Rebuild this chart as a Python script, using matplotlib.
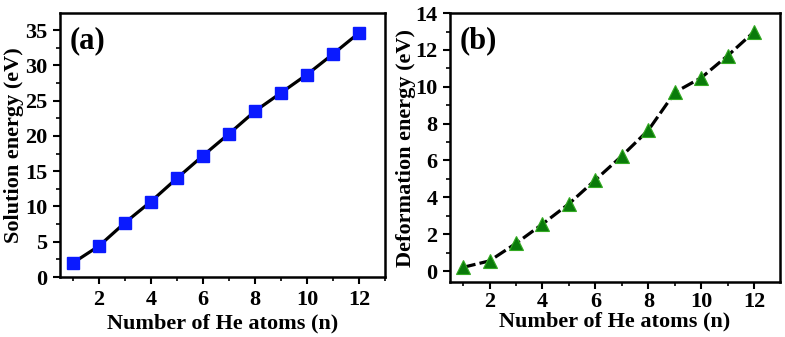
import matplotlib
matplotlib.use("Agg")
import matplotlib.pyplot as plt
from matplotlib.ticker import MultipleLocator

n_atoms = [1, 2, 3, 4, 5, 6, 7, 8, 9, 10, 11, 12]
solution_energy = [2.0, 4.4, 7.7, 10.7, 14.0, 17.2, 20.3, 23.5, 26.1, 28.7, 31.6, 34.6]
deformation_energy = [0.2, 0.55, 1.5, 2.55, 3.65, 4.95, 6.25, 7.65, 9.7, 10.5, 11.7, 13.0]

plt.rcParams['font.family'] = 'Liberation Serif'
plt.rcParams['font.weight'] = 'bold'
plt.rcParams['axes.labelweight'] = 'bold'

fig = plt.figure(figsize=(7.85, 3.37), dpi=100)
ax1 = fig.add_axes([0.0764, 0.178, 0.414, 0.783])
ax2 = fig.add_axes([0.573, 0.163, 0.420, 0.798])

ax1.plot(n_atoms, solution_energy, color='black', lw=2.3, marker='s', ms=9,
         mfc='#0a1aff', mec='#0a1aff', zorder=3)
ax2.plot(n_atoms, deformation_energy, color='black', lw=2.3, ls=(0, (4, 1.3)),
         marker='^', ms=10, mfc='#0a7a0a', mec='#33aa22', mew=0.8, zorder=3)

ax1.set_xlim(0.5, 13)
ax1.set_ylim(0, 37.4)
ax1.yaxis.set_major_locator(MultipleLocator(5))
ax1.yaxis.set_minor_locator(MultipleLocator(2.5))
ax1.set_ylabel('Solution energy (eV)', fontsize=16, labelpad=1)
ax1.text(0.03, 0.95, '(a)', transform=ax1.transAxes, fontsize=22,
         fontweight='bold', va='top', ha='left')

ax2.set_xlim(0.5, 12.95)
ax2.set_ylim(-0.6, 14)
ax2.yaxis.set_major_locator(MultipleLocator(2))
ax2.yaxis.set_minor_locator(MultipleLocator(1))
ax2.set_ylabel('Deformation energy (eV)', fontsize=16, labelpad=-1)
ax2.text(0.03, 0.95, '(b)', transform=ax2.transAxes, fontsize=22,
         fontweight='bold', va='top', ha='left')

for ax, xpad, lpad in ((ax1, 4, 3), (ax2, 2, 0)):
    ax.xaxis.set_major_locator(MultipleLocator(2))
    ax.xaxis.set_minor_locator(MultipleLocator(1))
    ax.set_xlabel('Number of He atoms (n)', fontsize=16, labelpad=lpad)
    ax.tick_params(which='major', direction='out', length=5, width=1.5,
                   labelsize=16, pad=4)
    ax.tick_params(axis='x', which='major', pad=xpad)
    ax.tick_params(which='minor', direction='out', length=3, width=1.2)
    for s in ax.spines.values():
        s.set_linewidth(1.8)
    for lab in ax.get_xticklabels() + ax.get_yticklabels():
        lab.set_fontweight('bold')

fig.savefig('out.png', dpi=100)
